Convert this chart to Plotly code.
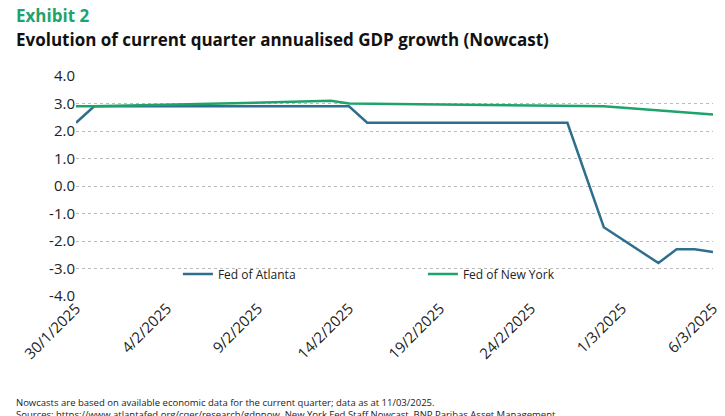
import plotly.graph_objects as go

atl_dates = ["2025-01-30", "2025-01-31", "2025-02-07", "2025-02-13", "2025-02-14", "2025-02-15",
             "2025-02-20", "2025-02-26", "2025-02-28", "2025-03-03", "2025-03-04", "2025-03-05", "2025-03-06"]
atl_vals = [2.3, 2.9, 2.9, 2.9, 2.9, 2.3, 2.3, 2.3, -1.5, -2.8, -2.3, -2.3, -2.4]

ny_dates = ["2025-01-30", "2025-01-31", "2025-02-07", "2025-02-13", "2025-02-14", "2025-02-21",
            "2025-02-28", "2025-03-06"]
ny_vals = [2.9, 2.9, 3.0, 3.1, 3.0, 2.95, 2.9, 2.6]

tick_dates = ["2025-01-30", "2025-02-04", "2025-02-09", "2025-02-14", "2025-02-19",
              "2025-02-24", "2025-03-01", "2025-03-06"]
tick_text = ["30/1/2025", "4/2/2025", "9/2/2025", "14/2/2025", "19/2/2025",
             "24/2/2025", "1/3/2025", "6/3/2025"]
y_ticks = [-4, -3, -2, -1, 0, 1, 2, 3, 4]
y_text = ["-4.0", "-3.0", "-2.0", "-1.0", "0.0", "1.0", "2.0", "3.0", "4.0"]

fig = go.Figure()
fig.add_trace(go.Scatter(x=atl_dates, y=atl_vals, mode="lines", name="Fed of Atlanta",
                         line=dict(color="#2E6F8E", width=2.5)))
fig.add_trace(go.Scatter(x=ny_dates, y=ny_vals, mode="lines", name="Fed of New York",
                         line=dict(color="#1FA36B", width=2.5)))

fig.update_layout(
    width=725, height=416, paper_bgcolor="white", plot_bgcolor="white",
    font=dict(family="Open Sans", size=12, color="#222"),
    margin=dict(l=62, r=20, t=68, b=128),
    showlegend=True,
    legend=dict(orientation="h", x=0.16, y=0.1, xanchor="left", yanchor="middle",
                bgcolor="rgba(0,0,0,0)", font=dict(size=12), entrywidth=200),
)
fig.update_xaxes(range=["2025-01-30", "2025-03-06"], tickvals=tick_dates, ticktext=tick_text,
                 tickangle=-45, showgrid=False, showline=False, ticks="",
                 tickfont=dict(size=15, color="#222"))
fig.update_yaxes(range=[-4.0, 4.0], tickvals=y_ticks, ticktext=y_text, showgrid=True,
                 gridcolor="#bbbbbb", griddash="dot", zeroline=False,
                 tickfont=dict(size=15, color="#222"))

fig.add_annotation(text="<b>Exhibit 2</b>", xref="paper", yref="paper", x=0, y=1,
                   xanchor="left", yanchor="bottom", showarrow=False, xshift=-62, yshift=47,
                   font=dict(size=17, color="#1FA36B"))
fig.add_annotation(text="<b>Evolution of current quarter annualised GDP growth (Nowcast)</b>",
                   xref="paper", yref="paper", x=0, y=1, xanchor="left", yanchor="bottom",
                   showarrow=False, xshift=-62, yshift=23, font=dict(size=17, color="#111"))
fig.add_annotation(text="Nowcasts are based on available economic data for the current quarter; data as at 11/03/2025."
                        "<br>Sources: https://www.atlantafed.org/cqer/research/gdpnow, New York Fed Staff Nowcast, BNP Paribas Asset Management.",
                   xref="paper", yref="paper", x=0, y=0, xanchor="left", yanchor="top",
                   showarrow=False, xshift=-62, yshift=-98, align="left",
                   font=dict(size=9.5, color="#222"))

fig.write_html("out.html")
